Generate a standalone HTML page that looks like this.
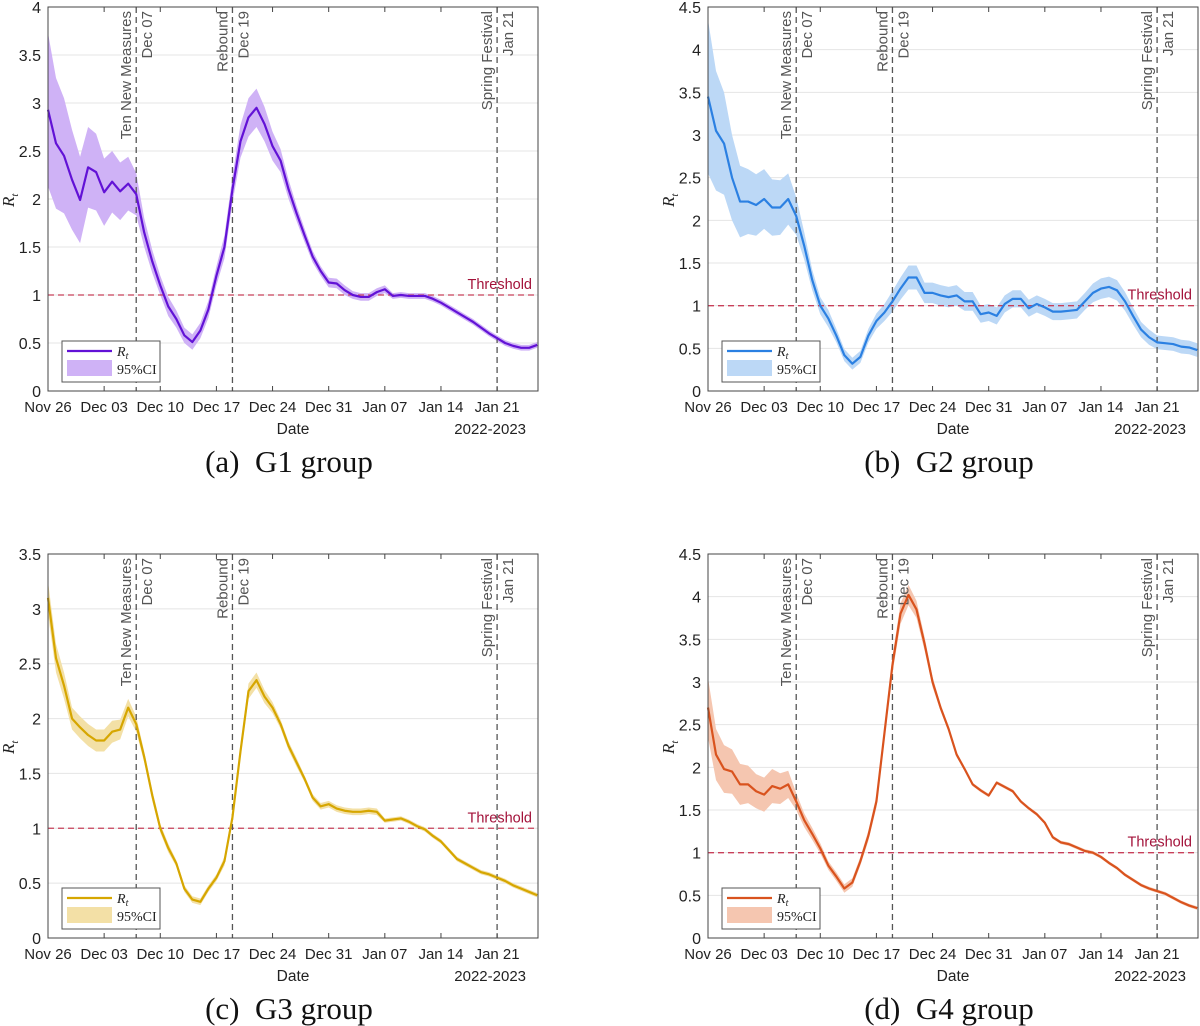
<!DOCTYPE html>
<html><head><meta charset="utf-8">
<style>
body{margin:0;background:#fff;}
svg{display:block;font-family:"Liberation Sans",sans-serif;}
</style></head>
<body>
<svg id="fig" width="1200" height="1026" viewBox="0 0 1200 1026"></svg>
<script>
const dateLabels=["Nov 26","Dec 03","Dec 10","Dec 17","Dec 24","Dec 31","Jan 07","Jan 14","Jan 21"];
const eventDays=[11,23,56];
const eventNames=["Ten New Measures","Rebound","Spring Festival"];
const eventDates=["Dec 07","Dec 19","Jan 21"];
const g1Rt=[2.93,2.58,2.45,2.2,1.99,2.33,2.28,2.07,2.18,2.08,2.16,2.05,1.65,1.35,1.1,0.88,0.75,0.58,0.51,0.63,0.85,1.2,1.5,2.1,2.6,2.85,2.95,2.78,2.55,2.4,2.1,1.85,1.62,1.4,1.25,1.13,1.12,1.05,1.0,0.98,0.98,1.03,1.06,0.99,1.0,0.99,0.99,0.99,0.96,0.92,0.87,0.82,0.77,0.72,0.66,0.6,0.55,0.5,0.47,0.45,0.45,0.48];
const g1Ci=[0.8,0.68,0.6,0.52,0.45,0.42,0.4,0.35,0.32,0.3,0.28,0.22,0.15,0.12,0.1,0.1,0.09,0.08,0.08,0.08,0.09,0.1,0.12,0.14,0.17,0.2,0.2,0.18,0.15,0.12,0.1,0.08,0.07,0.06,0.05,0.05,0.05,0.05,0.04,0.04,0.04,0.04,0.04,0.03,0.03,0.03,0.03,0.03,0.03,0.03,0.03,0.03,0.03,0.03,0.03,0.03,0.03,0.03,0.03,0.03,0.03,0.03];
const g2Rt=[3.45,3.05,2.9,2.5,2.22,2.22,2.18,2.25,2.15,2.15,2.25,2.05,1.7,1.3,1.0,0.85,0.65,0.42,0.32,0.4,0.65,0.82,0.92,1.05,1.2,1.33,1.33,1.15,1.15,1.12,1.1,1.12,1.05,1.05,0.9,0.92,0.88,1.02,1.08,1.08,0.97,1.02,0.98,0.93,0.93,0.94,0.95,1.05,1.15,1.2,1.22,1.18,1.05,0.88,0.72,0.63,0.57,0.56,0.55,0.52,0.51,0.48];
const g2Ci=[0.9,0.7,0.6,0.5,0.42,0.38,0.36,0.35,0.33,0.32,0.3,0.22,0.16,0.12,0.1,0.1,0.08,0.07,0.07,0.07,0.08,0.09,0.1,0.12,0.13,0.14,0.14,0.12,0.12,0.12,0.12,0.12,0.11,0.11,0.1,0.1,0.1,0.1,0.1,0.1,0.1,0.1,0.1,0.1,0.1,0.1,0.1,0.1,0.11,0.12,0.12,0.12,0.11,0.1,0.09,0.09,0.08,0.08,0.08,0.08,0.08,0.08];
const g3Rt=[3.1,2.55,2.3,2.0,1.92,1.85,1.8,1.8,1.88,1.9,2.1,1.95,1.65,1.3,1.0,0.82,0.68,0.45,0.35,0.33,0.45,0.55,0.7,1.1,1.7,2.25,2.35,2.2,2.1,1.95,1.75,1.6,1.45,1.28,1.2,1.22,1.18,1.16,1.15,1.15,1.16,1.15,1.07,1.08,1.09,1.06,1.02,0.99,0.93,0.88,0.8,0.72,0.68,0.64,0.6,0.58,0.55,0.52,0.48,0.45,0.42,0.39];
const g3Ci=[0.15,0.13,0.12,0.1,0.1,0.1,0.1,0.1,0.1,0.09,0.08,0.07,0.05,0.05,0.04,0.04,0.03,0.03,0.03,0.03,0.03,0.03,0.04,0.05,0.06,0.07,0.07,0.06,0.05,0.04,0.04,0.04,0.03,0.03,0.03,0.03,0.03,0.03,0.03,0.03,0.03,0.03,0.02,0.02,0.02,0.02,0.02,0.02,0.02,0.02,0.02,0.02,0.02,0.02,0.02,0.02,0.02,0.02,0.02,0.02,0.02,0.02];
const g4Rt=[2.7,2.15,1.98,1.95,1.8,1.8,1.72,1.68,1.78,1.75,1.8,1.6,1.38,1.22,1.05,0.85,0.72,0.58,0.65,0.9,1.2,1.6,2.4,3.2,3.8,4.02,3.85,3.45,3.0,2.7,2.45,2.15,1.98,1.8,1.73,1.67,1.82,1.77,1.72,1.6,1.52,1.45,1.35,1.18,1.12,1.1,1.06,1.02,1.0,0.95,0.88,0.82,0.74,0.68,0.62,0.58,0.55,0.52,0.47,0.42,0.38,0.35];
const g4Ci=[0.35,0.3,0.28,0.26,0.24,0.22,0.2,0.2,0.2,0.18,0.16,0.1,0.08,0.07,0.06,0.05,0.05,0.05,0.05,0.05,0.06,0.07,0.08,0.1,0.12,0.12,0.1,0.08,0.06,0.04,0.03,0.03,0.02,0.02,0.02,0.02,0.02,0.02,0.02,0.02,0.02,0.02,0.02,0.02,0.02,0.02,0.02,0.02,0.02,0.02,0.02,0.02,0.02,0.02,0.02,0.02,0.02,0.02,0.02,0.02,0.02,0.02];

const NS="http://www.w3.org/2000/svg";
const svg=document.getElementById('fig');
function mk(tag,attrs,parent,text){const e=document.createElementNS(NS,tag);for(const k in attrs)e.setAttribute(k,attrs[k]);if(text!==undefined)e.textContent=text;(parent||svg).appendChild(e);return e;}

function panel(cfg){
  const g=mk('g',{});
  
  
  const L=cfg.x0,R=cfg.x0+490,T=cfg.y0,B=cfg.y0+384;
  const xs=d=>L+d*(R-L)/61.1;
  const ys=v=>B-v*(B-T)/cfg.ymax;
  for(let v=0;v<=cfg.ymax+1e-9;v+=0.5){
    const y=ys(v);
    if(v>0){const gl=mk('line',{x1:L,x2:R,y1:y,y2:y,stroke:'#e4e4e4','stroke-width':1},g);
    }
    const t=mk('text',{x:L-7,y:y+6,'text-anchor':'end','font-size':16,fill:'#222'},g,String(v));
    
  }
  const rt=cfg.rt,ci=cfg.ci;
  let up=rt.map((v,i)=>xs(i)+','+ys(v+ci[i])),lo=rt.map((v,i)=>xs(i)+','+ys(Math.max(0,v-ci[i]))).reverse();
  const band=mk('polygon',{points:up.concat(lo).join(' '),fill:cfg.fill,stroke:'none'},g);
  
  const th=mk('line',{x1:L,x2:R,y1:ys(1),y2:ys(1),stroke:'#c8405a','stroke-width':1.3,'stroke-dasharray':'6,4'},g);
  
  const tt=mk('text',{x:R-6,y:ys(1)-6,'text-anchor':'end','font-size':14.5,fill:'#a3123a'},g,'Threshold');
  
  eventDays.forEach((d,i)=>{
    const x=xs(d);
    const el=mk('line',{x1:x,x2:x,y1:T,y2:B,stroke:'#555','stroke-width':1.3,'stroke-dasharray':'6,4'},g);
    
    const a=mk('text',{transform:`translate(${x-5},${T+4}) rotate(-90)`,'text-anchor':'end','font-size':15,fill:'#555'},g,eventNames[i]);
    
    const b=mk('text',{transform:`translate(${x+16},${T+4}) rotate(-90)`,'text-anchor':'end','font-size':15,fill:'#555'},g,eventDates[i]);
    
  });
  const ln=mk('polyline',{points:rt.map((v,i)=>xs(i)+','+ys(v)).join(' '),fill:'none',stroke:cfg.color,'stroke-width':2.2,'stroke-linejoin':'round'},g);
  
  const bx=mk('rect',{x:L,y:T,width:R-L,height:B-T,fill:'none',stroke:'#444','stroke-width':1},g);
  
  dateLabels.forEach((lab,i)=>{
    const x=xs(i*7);
    mk('line',{x1:x,x2:x,y1:B,y2:B-5,stroke:'#444'},g);
    mk('line',{x1:x,x2:x,y1:T,y2:T+5,stroke:'#444'},g);
    const t=mk('text',{x:x,y:B+21,'text-anchor':'middle','font-size':15,fill:'#222'},g,lab);
    
  });
  const dt=mk('text',{x:(L+R)/2,y:B+43,'text-anchor':'middle','font-size':15.5,fill:'#222'},g,'Date');
  
  const yr=mk('text',{x:R-12,y:B+43,'text-anchor':'end','font-size':15,fill:'#222'},g,'2022-2023');
  
  const yl=mk('text',{transform:`translate(${L-34},${(T+B)/2+8}) rotate(-90)`,'font-size':17,'font-style':'italic','font-family':'Liberation Serif,serif',fill:'#222'},g);
  
  yl.innerHTML='R<tspan font-size="11" dy="4">t</tspan>';
  const lg=mk('g',{},g);
  
  mk('rect',{x:L+14,y:B-50,width:98,height:41,fill:'#fff',stroke:'#555'},lg);
  mk('line',{x1:L+19,x2:L+64,y1:B-40,y2:B-40,stroke:cfg.color,'stroke-width':2.2},lg);
  const lt=mk('text',{x:L+69,y:B-35,'font-size':14,'font-style':'italic','font-family':'Liberation Serif,serif',fill:'#222'},lg);
  lt.innerHTML='R<tspan font-size="10" dy="3">t</tspan>';
  mk('rect',{x:L+19,y:B-31,width:45,height:16,fill:cfg.fill},lg);
  mk('text',{x:L+69,y:B-17,'font-size':14,'font-family':'Liberation Serif,serif',fill:'#222'},lg,'95%CI');
  const cap=mk('text',{x:(L+R)/2-4,y:B+81,'text-anchor':'middle','font-size':31,'font-family':'Liberation Serif,serif',fill:'#111'},g,cfg.caption);
  
}
panel({id:'g1',x0:48,y0:7,ymax:4,rt:g1Rt,ci:g1Ci,color:'#6212d6',fill:'#cfb2f6',caption:'(a)\u00a0\u00a0G1 group'});
panel({id:'g2',x0:708,y0:7,ymax:4.5,rt:g2Rt,ci:g2Ci,color:'#2b80e2',fill:'#bcd8f6',caption:'(b)\u00a0\u00a0G2 group'});
panel({id:'g3',x0:48,y0:554,ymax:3.5,rt:g3Rt,ci:g3Ci,color:'#d6a600',fill:'#f3e0a6',caption:'(c)\u00a0\u00a0G3 group'});
panel({id:'g4',x0:708,y0:554,ymax:4.5,rt:g4Rt,ci:g4Ci,color:'#d9531e',fill:'#f5c6b0',caption:'(d)\u00a0\u00a0G4 group'});
</script>
</body></html>
